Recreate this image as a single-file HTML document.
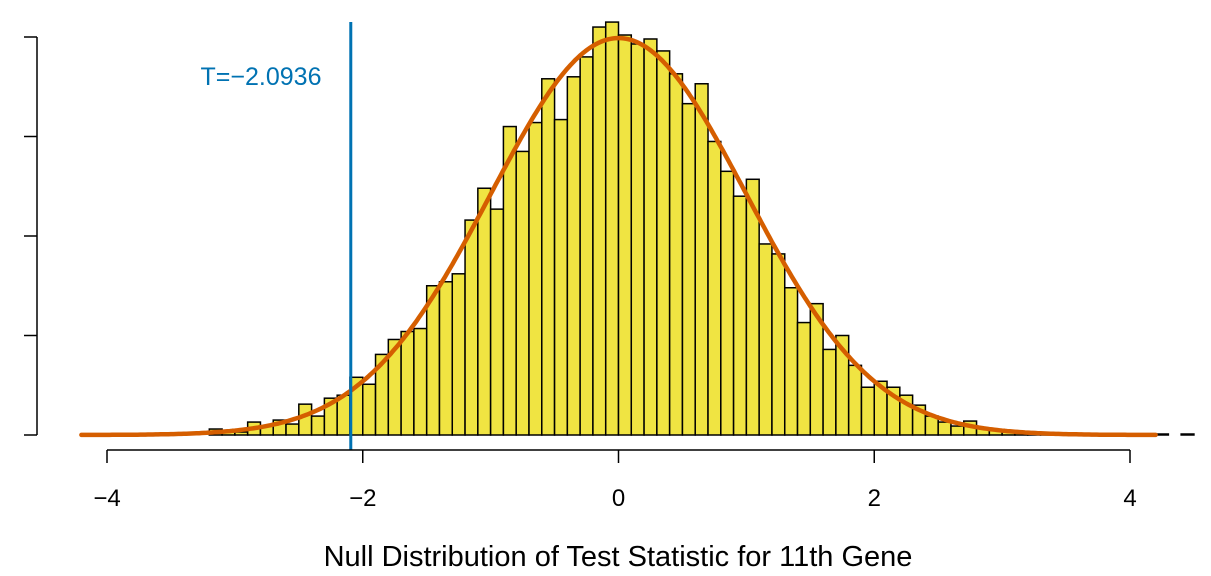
<!DOCTYPE html>
<html><head><meta charset="utf-8"><style>
body{margin:0;background:#fff;}
svg{display:block;font-family:"Liberation Sans",Arial,sans-serif;}
</style></head><body>
<svg id="chart" width="1211" height="576"></svg>
<script>
const binStarts=[-3.2,-3.1,-3.0,-2.9,-2.8,-2.7,-2.6,-2.5,-2.4,-2.3,-2.2,-2.1,-2.0,-1.9,-1.8,-1.7,-1.6,-1.5,-1.4,-1.3,-1.2,-1.1,-1.0,-0.9,-0.8,-0.7,-0.6,-0.5,-0.4,-0.3,-0.2,-0.1,0.0,0.1,0.2,0.3,0.4,0.5,0.6,0.7,0.8,0.9,1.0,1.1,1.2,1.3,1.4,1.5,1.6,1.7,1.8,1.9,2.0,2.1,2.2,2.3,2.4,2.5,2.6,2.7,2.8,2.9,3.0,3.1,3.2,3.3,3.4,3.5,3.6,3.7,3.8,3.9,4.0,4.1,4.2,4.3,4.4];
const densities=[0.006,0.003,0.003,0.013,0.009,0.015,0.011,0.031,0.019,0.037,0.040,0.058,0.051,0.081,0.096,0.104,0.107,0.150,0.154,0.162,0.216,0.248,0.227,0.310,0.285,0.314,0.358,0.317,0.360,0.380,0.410,0.415,0.402,0.393,0.398,0.386,0.363,0.333,0.353,0.295,0.265,0.240,0.257,0.192,0.182,0.148,0.113,0.132,0.086,0.100,0.070,0.048,0.054,0.048,0.040,0.030,0.019,0.013,0.009,0.014,0.007,0.005,0.003,0.002,0.002,0.001,0.001,0.001,0,0.001,0,0,0,0,0.001,0,0.001];
const binWidth=0.1;
const xTicks=[-4,-2,0,2,4];
const yTicks=[0,0.1,0.2,0.3,0.4];
const observedT=-2.0936;
const NS="http://www.w3.org/2000/svg";
const svg=document.getElementById('chart');
const X=v=>618.5+v*127.875;
const Y=d=>435-d*995;
function el(t,a,p){const e=document.createElementNS(NS,t);for(const k in a)e.setAttribute(k,a[k]);(p||svg).appendChild(e);return e;}
const gb=el('g',{});


binStarts.forEach((b,i)=>{
  const d=densities[i];
  const r=el('rect',{x:X(b),y:Y(d),width:X(b+binWidth)-X(b),height:Y(0)-Y(d),fill:'#F0E442',stroke:'#000','stroke-width':1.5},gb);
  
  
});
let pts=[];
for(let v=-4.2;v<=4.2001;v+=0.02){pts.push(X(v).toFixed(1)+','+Y(Math.exp(-v*v/2)/Math.sqrt(2*Math.PI)).toFixed(1));}
const c=el('polyline',{points:pts.join(' '),fill:'none',stroke:'#D55E00','stroke-width':4.5,'stroke-linecap':'round','stroke-linejoin':'round'});


const tl=el('line',{x1:X(observedT),x2:X(observedT),y1:22,y2:450,stroke:'#0072B2','stroke-width':3});


const tt=el('text',{x:261,y:85,'text-anchor':'middle','font-size':25,fill:'#0072B2'});
tt.textContent='T=\u22122.0936';


const gx=el('g',{});


el('line',{x1:X(xTicks[0]),x2:X(xTicks[xTicks.length-1]),y1:450,y2:450,stroke:'#000','stroke-width':1.5},gx);
xTicks.forEach(v=>{
  el('line',{x1:X(v),x2:X(v),y1:450,y2:463,stroke:'#000','stroke-width':1.5},gx);
  const t=el('text',{x:X(v),y:506,'text-anchor':'middle','font-size':24},gx);
  t.textContent=(v<0?'\u2212':'')+Math.abs(v);
  
  
});
const gy=el('g',{});


el('line',{x1:37,x2:37,y1:Y(yTicks[yTicks.length-1]),y2:Y(yTicks[0]),stroke:'#000','stroke-width':1.5},gy);
yTicks.forEach(v=>{el('line',{x1:24,x2:37,y1:Y(v),y2:Y(v),stroke:'#000','stroke-width':1.5},gy);});
const xt=el('text',{x:618,y:566,'text-anchor':'middle','font-size':29});
xt.textContent='Null Distribution of Test Statistic for 11th Gene';


</script>
</body></html>
